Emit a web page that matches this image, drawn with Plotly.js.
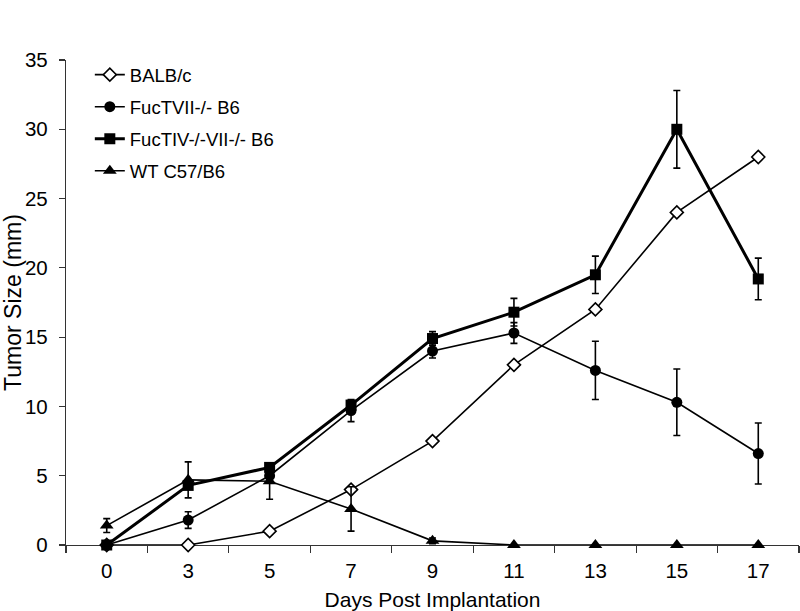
<!DOCTYPE html>
<html>
<head>
<meta charset="utf-8">
<script src="https://cdn.plot.ly/plotly-3.0.1.min.js"></script>
<style>html,body{margin:0;padding:0;background:#fff;}#chart{width:800px;height:611px;}</style>
</head>
<body>
<div id="chart"></div>
<script>
const days = ['0','3','5','7','9','11','13','15','17'];
const balbc = [0, 0, 1, 4, 7.5, 13, 17, 24, 28];
const fuc7 = [0, 1.8, 5, 9.7, 14, 15.3, 12.6, 10.3, 6.6];
const fuc7Err = [0, 0.6, 0, 0.8, 0.5, 0.75, 2.1, 2.4, 2.2];
const fuc47 = [0, 4.3, 5.6, 10.1, 14.9, 16.8, 19.5, 30, 19.2];
const fuc47Err = [0, 0, 0, 0, 0.5, 1.0, 1.35, 2.8, 1.5];
const wt = [1.4, 4.7, 4.6, 2.6, 0.3, 0, 0, 0, 0];
const wtErr = [0.5, 1.3, 1.3, 1.6, 0.2, 0, 0, 0, 0];
const seriesNames = ['BALB/c', 'FucTVII-/- B6', 'FucTIV-/-VII-/- B6', 'WT C57/B6'];
const starDays = ['9', '15'];
const starY = [17.6, 34.5];

const font = 'Arial, "Liberation Sans", sans-serif';
function errBar(arr) {
  return {type: 'data', array: arr, visible: true, color: '#000', thickness: 1.6, width: 3.5};
}
const traces = [
  {x: days, y: balbc, name: seriesNames[0], mode: 'lines+markers', legendgroup: 'a', cliponaxis: false,
   line: {color: '#000', width: 1.6},
   marker: {symbol: 'diamond', size: 10, color: '#fff', line: {color: '#000', width: 1.6}}},
  {x: days, y: fuc7, name: seriesNames[1], mode: 'lines+markers', legendgroup: 'b', cliponaxis: false,
   line: {color: '#000', width: 1.6}, error_y: errBar(fuc7Err),
   marker: {symbol: 'circle', size: 11, color: '#000'}},
  {x: days, y: fuc47, name: seriesNames[2], mode: 'lines+markers', legendgroup: 'c', cliponaxis: false,
   line: {color: '#000', width: 3}, error_y: errBar(fuc47Err),
   marker: {symbol: 'square', size: 11, color: '#000'}},
  {x: days, y: wt, name: seriesNames[3], mode: 'lines+markers', legendgroup: 'd', cliponaxis: false,
   line: {color: '#000', width: 1.6}, error_y: errBar(wtErr),
   marker: {symbol: 'triangle-up', size: 12, color: '#000'}}
];

const layout = {
  width: 800, height: 611,
  margin: {l: 66, r: 1, t: 60, b: 66, pad: 0},
  paper_bgcolor: '#fff', plot_bgcolor: '#fff',
  font: {family: font, color: '#000', size: 20},
  showlegend: true,
  legend: {x: 0.0325, y: 1.008, xanchor: 'left', yanchor: 'top', bgcolor: 'rgba(0,0,0,0)',
           font: {family: font, size: 18.5, color: '#000'}, tracegroupgap: 5, traceorder: 'grouped'},
  xaxis: {type: 'category', range: [-0.5, 8.5], tickson: 'boundaries', ticks: 'outside', ticklen: 7,
          tickwidth: 1.2, tickcolor: '#333', showline: true, linecolor: '#333', linewidth: 1.2,
          layer: 'below traces',
          showgrid: false, zeroline: false, tickfont: {family: font, size: 20.5}, ticklabelstandoff: 7,
          title: {text: 'Days Post Implantation', font: {family: font, size: 21}, standoff: 11}},
  yaxis: {range: [0, 35], dtick: 5, ticks: 'outside', ticklen: 6, tickwidth: 1.2, tickcolor: '#333',
          showline: true, linecolor: '#333', linewidth: 1.2, showgrid: false, zeroline: false,
          layer: 'below traces',
          tickfont: {family: font, size: 20.5}, ticklabelstandoff: 7,
          title: {text: 'Tumor Size (mm)', font: {family: font, size: 23}, standoff: 12}},
  annotations: starDays.map((d, i) => ({x: d, y: starY[i], xref: 'x', yref: 'y', text: '*',
    showarrow: false, font: {family: font, size: 24, color: '#000'}}))
};
Plotly.newPlot('chart', traces, layout, {displayModeBar: false, staticPlot: true});
</script>
</body>
</html>
